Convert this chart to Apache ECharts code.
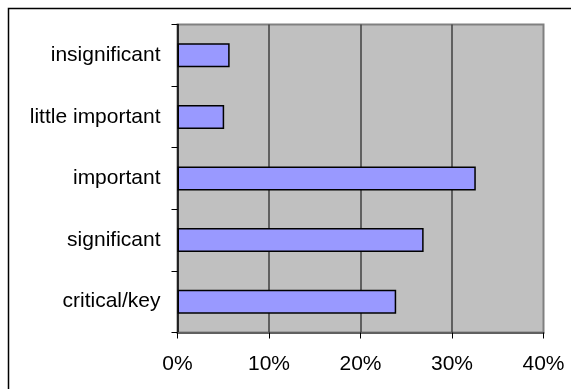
<!DOCTYPE html>
<html>
<head>
<meta charset="utf-8">
<script src="https://cdn.jsdelivr.net/npm/echarts@6/dist/echarts.min.js"></script>
<style>html,body{margin:0;padding:0;background:#fff;}#c{width:571px;height:389px;}</style>
</head>
<body>
<div id="c"></div>
<script>
const categories = ['insignificant', 'little important', 'important', 'significant', 'critical/key'];
const values = [5.7, 5.1, 32.6, 26.9, 23.9];
const xTicks = [0, 10, 20, 30, 40];

const chart = echarts.init(document.getElementById('c'), null, {renderer: 'canvas'});
const font = '"Liberation Sans", Arial, sans-serif';
chart.setOption({
  animation: false,
  backgroundColor: '#ffffff',
  graphic: [{
    type: 'rect', shape: {x: 8.5, y: 8.5, width: 620, height: 420},
    style: {fill: 'none', stroke: '#000', lineWidth: 1.5}, z: 100
  }],
  grid: {
    left: 177.5, right: 27.5, top: 24.5, bottom: 56.5,
    show: true, backgroundColor: '#C0C0C0', borderColor: '#808080', borderWidth: 2
  },
  xAxis: {
    type: 'value', min: xTicks[0], max: xTicks[xTicks.length - 1], interval: 10,
    axisLine: {show: true, lineStyle: {color: '#606060', width: 2}},
    axisTick: {show: true, length: 6, lineStyle: {color: '#000', width: 1}},
    axisLabel: {formatter: '{value}%', color: '#000', fontSize: 21, fontFamily: font, margin: 21},
    splitLine: {show: true, showMinLine: false, showMaxLine: false, lineStyle: {color: '#404040', width: 1.5}}
  },
  yAxis: {
    type: 'category', data: categories, inverse: true,
    axisLine: {show: true, lineStyle: {color: '#000', width: 1.5}},
    axisTick: {show: true, length: 6, alignWithLabel: false, lineStyle: {color: '#000', width: 1}},
    axisLabel: {color: '#000', fontSize: 21, fontFamily: font, margin: 17},
    splitLine: {show: false}
  },
  series: [{
    type: 'bar', data: values, barWidth: 24,
    itemStyle: {color: '#9999FF', borderColor: '#000', borderWidth: 1.5}
  }]
});
</script>
</body>
</html>
